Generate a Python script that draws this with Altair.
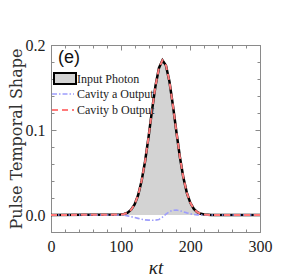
import altair as alt
import pandas as pd

# time axis (kappa t) and curves
t_vals = [0, 100, 105, 110, 115, 120, 125, 130, 135, 140, 145, 150, 155, 160,
          165, 170, 175, 180, 185, 190, 195, 200, 205, 210, 215, 220, 230, 300]
input_photon = [0.0, 0.0005, 0.0012, 0.0028, 0.0062, 0.0125, 0.0232, 0.0399, 0.063,
                0.0916, 0.123, 0.152, 0.173, 0.182, 0.176, 0.157, 0.129, 0.0978,
                0.0683, 0.044, 0.026, 0.0143, 0.0072, 0.0033, 0.0014, 0.0006, 0.0, 0.0]
cavity_b = [0.0, 0.0005, 0.0012, 0.0028, 0.0062, 0.0125, 0.0232, 0.0399, 0.063,
            0.0916, 0.123, 0.152, 0.173, 0.182, 0.176, 0.157, 0.129, 0.0978,
            0.0683, 0.044, 0.026, 0.0143, 0.0072, 0.0033, 0.0014, 0.0006, 0.0, 0.0]
cavity_a = [0.0, 0.0, -0.0003, -0.001, -0.002, -0.003, -0.004, -0.005, -0.0057,
            -0.006, -0.0062, -0.006, -0.0052, -0.0025, 0.001, 0.004, 0.0055, 0.0058,
            0.005, 0.0038, 0.0025, 0.0014, 0.0006, 0.0002, 0.0, 0.0, 0.0, 0.0]

x_major = [0, 100, 200, 300]
x_minor = list(range(0, 301, 20))
y_major = [0.0, 0.1, 0.2]
y_minor = [-0.02, 0.0, 0.02, 0.04, 0.06, 0.08, 0.1, 0.12, 0.14, 0.16, 0.18, 0.2]

legend_labels = ["Input Photon", "Cavity a Output", "Cavity b Output"]

df = pd.DataFrame({"t": t_vals, "inp": input_photon, "a": cavity_a, "b": cavity_b})

W, H = 209, 187
SERIF = "Liberation Serif"
FRAME = "#8a8a8a"
xs = alt.Scale(domain=[0, 300], nice=False, zero=False)
ys = alt.Scale(domain=[-0.02, 0.2], nice=False, zero=False)

base = alt.Chart(df)

area = base.mark_area(color="#d3d3d3").encode(
    x=alt.X("t:Q", scale=xs, axis=alt.Axis(
        values=x_major, ticks=False, domain=False, grid=False, labelFont=SERIF,
        labelFontSize=16, labelColor="#222", labelPadding=6, labelFlush=False,
        title="κt", titleFont=SERIF, titleFontSize=19, titleFontStyle="italic",
        titleFontWeight="normal", titleColor="#222", titlePadding=4)),
    y=alt.Y("inp:Q", scale=ys, axis=alt.Axis(
        values=y_major, format=".1f", ticks=False, domain=False, grid=False,
        labelFont=SERIF, labelFontSize=16, labelColor="#222", labelPadding=6,
        labelFlush=False,
        title="Pulse Temporal Shape", titleFont="DejaVu Serif", titleFontSize=16,
        titleFontWeight="normal", titleColor="#333", titlePadding=1)),
)


def tick_layer(xorient, yorient, xvals, yvals, size):
    return base.mark_line(opacity=0).encode(
        x=alt.X("t:Q", scale=xs, axis=alt.Axis(
            orient=xorient, offset=-H, values=xvals, labels=False, domain=False,
            grid=False, ticks=True, tickSize=size, tickColor=FRAME, title=None)),
        y=alt.Y("inp:Q", scale=ys, axis=alt.Axis(
            orient=yorient, offset=-W, values=yvals, labels=False, domain=False,
            grid=False, ticks=True, tickSize=size, tickColor=FRAME, title=None)),
    )


ticks = [
    tick_layer("top", "right", x_major, y_major, 5),
    tick_layer("top", "right", x_minor, y_minor, 3),
    tick_layer("bottom", "left", x_major, y_major, 5),
    tick_layer("bottom", "left", x_minor, y_minor, 3),
]

noax_x = alt.X("t:Q", scale=xs, axis=None)
black = base.mark_line(color="black", strokeWidth=2.5).encode(
    x=noax_x, y=alt.Y("inp:Q", scale=ys, axis=None))
blue = base.mark_line(color="#9d9dfb", strokeWidth=1.6, strokeDash=[5, 2, 1.5, 2]).encode(
    x=noax_x, y=alt.Y("a:Q", scale=ys, axis=None))
red = base.mark_line(color="#ff7a7a", strokeWidth=2, strokeDash=[6, 4]).encode(
    x=noax_x, y=alt.Y("b:Q", scale=ys, axis=None))

# manual legend
leg_rect = alt.Chart(pd.DataFrame({"k": [0]})).mark_rect(
    fill="#d3d3d3", stroke="black", strokeWidth=2).encode(
    x=alt.value(3), x2=alt.value(25), y=alt.value(28), y2=alt.value(39))
leg_blue = alt.Chart(pd.DataFrame({"k": [0]})).mark_rule(
    color="#9d9dfb", strokeWidth=1.6, strokeDash=[5, 2, 1.5, 2]).encode(
    x=alt.value(1), x2=alt.value(23), y=alt.value(49))
leg_red = alt.Chart(pd.DataFrame({"k": [0]})).mark_rule(
    color="#ff7a7a", strokeWidth=2, strokeDash=[6, 4]).encode(
    x=alt.value(1), x2=alt.value(23), y=alt.value(65))
leg_text = alt.Chart(pd.DataFrame({"lab": legend_labels, "py": [33.5, 49, 65]})).mark_text(
    align="left", baseline="middle", font=SERIF, fontSize=12, color="#222").encode(
    x=alt.value(26), y=alt.Y("py:Q", scale=None), text="lab:N")
panel = alt.Chart(pd.DataFrame({"lab": ["(e)"]})).mark_text(
    align="left", baseline="middle", font="Liberation Sans", fontSize=18, color="#111").encode(
    x=alt.value(7), y=alt.value(13), text="lab:N")

chart = alt.layer(area, *ticks, black, blue, red, leg_rect, leg_blue, leg_red, leg_text, panel).resolve_axis(
    x="independent", y="independent"
).properties(
    width=W, height=H, autosize=alt.AutoSizeParams(type="none"),
    padding={"left": 43, "top": 37, "right": 20, "bottom": 50},
).configure_view(stroke=FRAME, strokeWidth=1)

chart.save("out.html", embed_options={"renderer": "svg", "actions": False})
